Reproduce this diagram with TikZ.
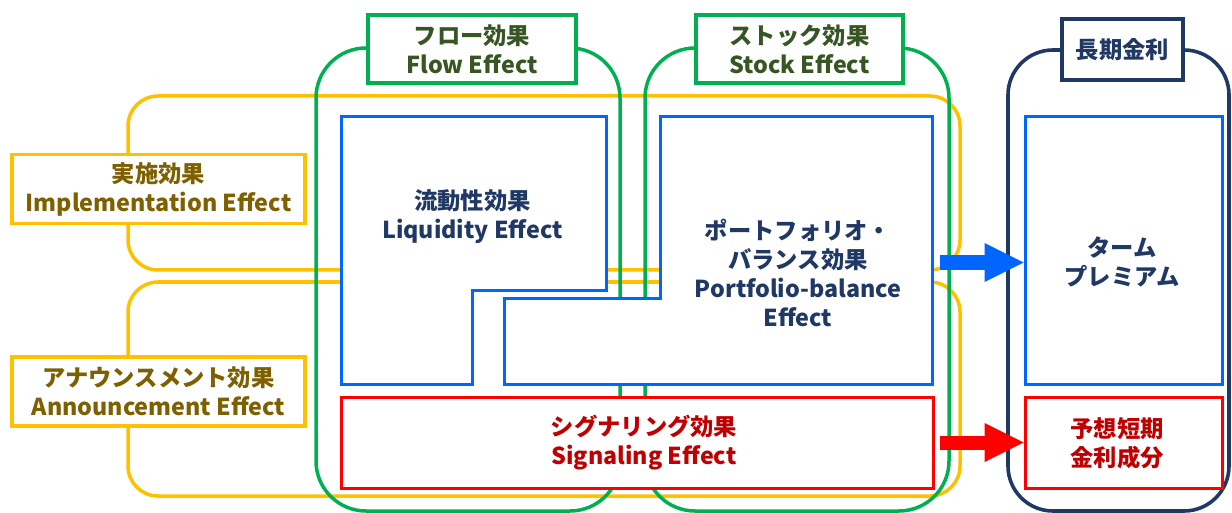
\documentclass[tikz,border=0pt]{standalone}
\usepackage{fontspec}
\setmainfont{Noto Sans CJK JP}
\usetikzlibrary{arrows.meta}
\definecolor{yel}{HTML}{FFC000}
\definecolor{grn}{HTML}{00B050}
\definecolor{blu}{HTML}{0066FF}
\definecolor{rd}{HTML}{FF0000}
\definecolor{nav}{HTML}{203864}
\definecolor{olivetxt}{HTML}{7F6000}
\definecolor{grntxt}{HTML}{375623}
\definecolor{redtxt}{HTML}{C00000}
\tikzset{
  yelbox/.style={draw=yel, line width=3.5pt, rounded corners=30pt},
  grnbox/.style={draw=grn, line width=3.5pt, rounded corners=50pt},
  navbox/.style={draw=nav, line width=3.6pt, rounded corners=45pt},
  lbl/.style={font=\fontsize{23.3}{29}\selectfont\bfseries, align=center, inner sep=0pt},
  ylabel/.style={lbl, draw=yel, line width=3.5pt, fill=white, text=olivetxt, minimum width=293pt, minimum height=69pt},
  glabel/.style={lbl, draw=grn, line width=3.5pt, fill=white, text=grntxt, minimum height=68pt},
  nlabel/.style={lbl, draw=nav, line width=3.6pt, fill=white, text=nav, minimum height=61pt, minimum width=121pt},
  bluebox/.style={draw=blu, line width=3pt, fill=white},
  redbox/.style={draw=rd, line width=3pt, fill=white},
  bigarrow/.style={line width=#1, -{Triangle[length=39pt, width=39pt, line width=0pt]}},
}
\begin{document}
\begin{tikzpicture}[x=1pt, y=-1pt]
\useasboundingbox (0,0) rectangle (1232,513);
% yellow groups
\draw[yelbox] (128,96) rectangle (960,270);
\draw[yelbox] (128,282) rectangle (960,496);
% green groups
\draw[grnbox] (316,48) rectangle (620,511);
\draw[grnbox] (645,48) rectangle (949,511);
% navy group
\draw[navbox] (1008,50) rectangle (1229,511);
% group labels
\node[ylabel] (impl) at (158.5,189) {実施効果\\Implementation Effect};
\node[ylabel] (ann) at (158.5,391.5) {アナウンスメント効果\\Announcement Effect};
\node[glabel, minimum width=208pt] (flow) at (472,49) {フロー効果\\Flow Effect};
\node[glabel, minimum width=207pt] (stock) at (799.5,49) {ストック効果\\Stock Effect};
\node[nlabel] (ltr) at (1122.5,49.5) {長期金利};
% blue shapes
\draw[bluebox] (341,117) -- (606,117) -- (606,290) -- (472,290) -- (472,384) -- (341,384) -- cycle;
\draw[bluebox] (660,117) -- (932,117) -- (932,384) -- (504,384) -- (504,298) -- (660,298) -- cycle;
\node[bluebox, minimum width=197pt, minimum height=267pt, inner sep=0pt] (tp) at (1123.5,250.5) {};
% red boxes
\node[redbox, minimum width=592pt, minimum height=91pt, inner sep=0pt] (sig) at (637,442.5) {};
\node[redbox, minimum width=197pt, minimum height=91pt, inner sep=0pt] (exp) at (1123.5,442.5) {};
% texts
\node[lbl, text=nav] (liqt) at (472.5,217) {流動性効果\\Liquidity Effect};
\node[lbl, text=nav] (pbt) at (798,272.5) {ポートフォリオ・\\バランス効果\\Portfolio-balance\\Effect};
\node[lbl, text=nav] (tpt) at (1122,261.5) {ターム\\プレミアム};
\node[lbl, text=redtxt] (sigt) at (644,442.5) {シグナリング効果\\Signaling Effect};
\node[lbl, text=redtxt] (expt) at (1117,443.5) {予想短期\\金利成分};
% arrows
\coordinate (ba) at (940,262.5);
\coordinate (ra) at (940,442.5);
\draw[bigarrow=15pt, blu] (ba) -- (tp.west |- ba);
\draw[bigarrow=14pt, rd] (ra) -- (exp.west |- ra);
\end{tikzpicture}
\end{document}
